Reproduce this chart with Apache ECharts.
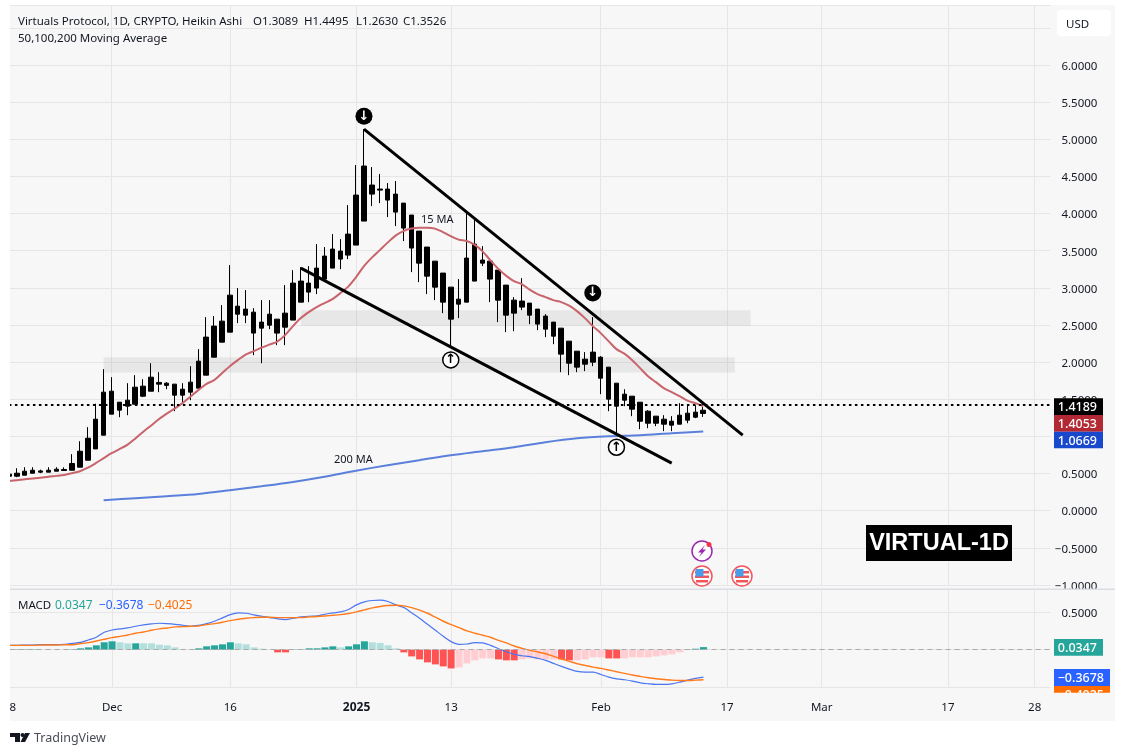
<!DOCTYPE html>
<html>
<head>
<meta charset="utf-8">
<title>VIRTUAL-1D</title>
<script src="https://cdn.jsdelivr.net/npm/echarts@6/dist/echarts.min.js"></script>
<style>
html,body{margin:0;padding:0;background:#fff;}
#main{width:1125px;height:756px;}
</style>
</head>
<body>
<div id="main"></div>
<script>
//日线数据 从图上读出来的 Heikin Ashi 全部是黑色 所以只记实体上下沿
var bodyLow=[.465,.465,.478,.505,.519,.519,.532,.541,.545,.586,.680,.832,1.017,1.300,1.354,1.407,1.434,1.542,1.609,1.704,1.687,1.556,1.556,1.596,1.650,1.825,2.067,2.269,2.404,2.646,2.633,2.391,2.458,2.498,2.391,2.471,2.566,2.808,2.943,2.997,3.118,3.266,3.387,3.441,3.576,3.899,4.262,4.316,4.182,4.020,3.805,3.536,3.333,3.158,3.010,2.808,2.579,2.781,2.808,3.091,3.333,3.118,2.835,2.633,2.660,2.741,2.633,2.512,2.444,2.350,2.108,1.986,1.933,1.973,2.000,1.784,1.502,1.407,1.488,1.367,1.205,1.178,1.178,1.165,1.152,1.165,1.219,1.259,1.3089];
var bodyHigh=[.492,.505,.532,.545,.536,.545,.559,.555,.636,.801,.976,1.232,1.596,1.609,1.461,1.488,1.663,1.677,1.798,1.727,1.717,1.704,1.636,1.731,2.013,2.337,2.485,2.552,2.902,2.754,2.714,2.673,2.539,2.646,2.579,2.660,3.064,3.091,3.064,3.266,3.428,3.522,3.495,3.724,4.249,4.640,4.384,4.330,4.330,4.262,4.141,3.980,3.764,3.549,3.360,3.199,3.010,2.848,3.401,3.589,3.374,3.360,3.239,3.037,2.835,2.822,2.795,2.714,2.620,2.539,2.458,2.283,2.148,2.040,2.135,2.067,1.933,1.717,1.569,1.542,1.461,1.340,1.273,1.232,1.205,1.286,1.313,1.327,1.3526];
var wickLow=[.438,.451,.478,.505,.505,.519,.532,.541,.545,.586,.680,.832,1.017,1.300,1.259,1.286,1.434,1.529,1.609,1.596,1.636,1.340,1.448,1.488,1.650,1.825,2.067,2.269,2.404,2.525,2.525,2.094,1.986,2.444,2.229,2.229,2.566,2.808,2.808,2.916,3.118,3.266,3.252,3.387,3.576,3.899,4.101,4.141,3.953,3.832,3.630,3.212,3.077,2.916,2.835,2.660,2.202,2.593,2.808,3.091,3.293,2.808,2.539,2.404,2.417,2.700,2.512,2.431,2.337,2.242,1.865,1.825,1.865,1.879,1.946,1.569,1.340,1.017,1.407,1.273,1.098,1.111,1.138,1.071,1.071,1.165,1.178,1.246,1.263];
var wickHigh=[.532,.572,.586,.586,.553,.586,.586,.584,.761,.936,1.125,1.441,1.906,1.798,1.461,1.717,1.825,1.771,1.986,1.865,1.731,1.704,1.717,1.946,2.175,2.606,2.620,2.768,3.306,2.997,2.970,2.727,2.835,2.835,2.579,3.037,3.239,3.279,3.293,3.589,3.549,3.724,3.656,4.114,4.653,5.138,4.626,4.532,4.411,4.438,4.141,3.980,3.764,3.549,3.360,3.199,3.010,3.118,4.006,3.912,3.562,3.360,3.239,3.037,2.875,3.131,2.795,2.714,2.646,2.539,2.458,2.283,2.148,2.135,2.606,2.081,1.933,1.717,1.636,1.542,1.461,1.354,1.273,1.286,1.273,1.448,1.421,1.421,1.4495];

//15 MA 每天一个点
var ma15=[.401,.411,.424,.434,.444,.458,.469,.482,.505,.532,.579,.640,.707,.774,.828,.886,.970,1.061,1.145,1.232,1.306,1.374,1.448,1.535,1.623,1.704,1.758,1.852,1.946,2.027,2.101,2.148,2.195,2.236,2.276,2.364,2.485,2.593,2.673,2.741,2.795,2.848,2.929,3.017,3.145,3.293,3.407,3.508,3.609,3.704,3.764,3.798,3.809,3.809,3.798,3.751,3.697,3.650,3.630,3.582,3.495,3.374,3.259,3.165,3.091,3.051,2.976,2.916,2.875,2.835,2.808,2.761,2.687,2.593,2.485,2.391,2.283,2.175,2.114,2.027,1.919,1.811,1.731,1.650,1.596,1.542,1.481,1.448,1.4053];
//200 MA 只取了几个读数点
var ma200Days=["2024-11-30","2024-12-04","2024-12-08","2024-12-12","2024-12-16","2024-12-20","2024-12-24","2024-12-28","2025-01-01","2025-01-05","2025-01-09","2025-01-13","2025-01-17","2025-01-21","2025-01-25","2025-01-29","2025-02-02","2025-02-06","2025-02-10","2025-02-14"];
var ma200=[.141,.168,.195,.226,.276,.330,.388,.458,.539,.613,.680,.747,.801,.855,.923,.976,1.003,1.017,1.044,1.0669];

//MACD
var macdHist=[.005,.005,.005,.005,.004,.004,.004,.004,.004,.018,.031,.058,.099,.112,.099,.085,.085,.085,.085,.067,.058,.031,.005,.003,.018,.045,.058,.072,.099,.085,.072,.031,.013,.004,-.036,-.036,.004,.004,.018,.018,.031,.045,.031,.045,.072,.112,.099,.090,.058,.018,-.036,-.090,-.130,-.170,-.197,-.224,-.251,-.238,-.184,-.143,-.117,-.117,-.130,-.143,-.143,-.130,-.117,-.130,-.130,-.130,-.130,-.143,-.143,-.130,-.103,-.103,-.117,-.117,-.117,-.103,-.103,-.103,-.090,-.076,-.063,-.036,.004,.013,.0347];
//柱子的深浅 T深绿 t浅绿 R深红 r浅红
var macdTone="TTTTttttTTTTTTttTtttttttTTTTTtttttRRTTTTTTtTTTttttRRRRRRRrrrrrRRRrrrrrRRrrrrRRrrrrrrrrTTT";
var macdLine=[.058,.058,.063,.063,.067,.067,.067,.072,.085,.099,.130,.166,.233,.264,.278,.291,.314,.332,.345,.354,.349,.340,.327,.314,.327,.349,.381,.426,.470,.493,.488,.466,.448,.430,.412,.403,.421,.439,.448,.452,.475,.493,.506,.538,.600,.641,.659,.663,.645,.600,.564,.493,.421,.340,.260,.179,.108,.072,.076,.094,.090,.058,.013,-.027,-.063,-.081,-.094,-.116,-.143,-.184,-.224,-.260,-.291,-.300,-.300,-.332,-.367,-.390,-.403,-.421,-.444,-.457,-.466,-.466,-.457,-.435,-.408,-.385,-.3678];
var signalLine=[.058,.058,.058,.058,.063,.063,.063,.067,.067,.081,.094,.116,.139,.161,.179,.197,.220,.237,.260,.278,.291,.305,.309,.314,.318,.336,.349,.367,.390,.408,.421,.430,.435,.435,.430,.430,.430,.430,.439,.444,.452,.461,.470,.484,.506,.533,.560,.578,.591,.596,.587,.564,.529,.488,.435,.381,.336,.296,.251,.220,.193,.166,.125,.090,.049,.018,-.009,-.031,-.054,-.090,-.125,-.157,-.188,-.211,-.233,-.251,-.273,-.296,-.318,-.340,-.358,-.376,-.390,-.399,-.408,-.412,-.412,-.408,-.4025];

//时间轴
var firstDay="2024-11-18";
var dayCount=133;
var tickDays=["2024-11-18","2024-12-01","2024-12-16","2025-01-01","2025-01-13","2025-02-01","2025-02-17","2025-03-01","2025-03-17","2025-03-28"];
var tickLabels=["18","Dec","16","2025","13","Feb","17","Mar","17","28"];

//趋势线 阻力区 箭头 都按日期和价格记
var upperTrend=[["2025-01-02",5.138],["2025-02-19",1.017]];
var lowerTrend=[["2024-12-25",3.266],["2025-02-10",.640]];
var zoneLow=[["2024-11-30",2.067],["2025-02-18",1.861]];
var zoneHigh=[["2024-12-25",2.700],["2025-02-20",2.490]];
var arrowsDown=[["2025-01-02",5.31],["2025-01-31",2.93]];
var arrowsUp=[["2025-01-13",2.03],["2025-02-03",.855]];
var lastPrice=1.4189;

var FONT='"Noto Sans", sans-serif';
var GRID_COLOR="#e6e6e6";
var PANEL="#f7f7f7";

function buildDays(){
    var days=[];
    var start=Date.parse(firstDay+"T00:00:00Z");
    for(var i=0;i<dayCount;i++){
        days.push(new Date(start+i*86400000).toISOString().slice(0,10));
    }
    return days;
}
var categories=buildDays();

function isTickDay(index,value){
    return tickDays.indexOf(value)>=0;
}

function priceLabel(v){
    var text=Math.abs(v).toFixed(4);
    return v<0?"\u2212"+text:text;
}

function candleData(){
    var rows=[];
    for(var i=0;i<bodyLow.length;i++){
        rows.push([bodyLow[i],bodyHigh[i],wickLow[i],wickHigh[i]]);
    }
    return rows;
}

function histData(){
    var toneColor={T:"#26a69a",t:"#b2dfdb",R:"#ff5252",r:"#ffcdd2"};
    return macdHist.map(function(v,i){
        return {value:v,itemStyle:{color:toneColor[macdTone.charAt(i)]}};
    });
}

function arrowPoint(item,isDown){
    return {
        coord:item,
        symbol:"circle",
        symbolSize:isDown?17:16,
        itemStyle:{color:isDown?"#000":"#fff",borderColor:"#000",borderWidth:isDown?0:1.5},
        label:{show:true,position:"inside",formatter:isDown?"\u2193":"\u2191",color:isDown?"#fff":"#000",fontSize:13,fontWeight:"bold",fontFamily:"DejaVu Sans"}
    };
}

function xAxisOf(gridIndex,showLabel){
    return {
        type:"category",
        gridIndex:gridIndex,
        data:categories,
        boundaryGap:false,
        axisLine:{show:false},
        axisTick:{show:true,interval:isTickDay,length:showLabel?6:4,lineStyle:{color:GRID_COLOR}},
        splitLine:{show:true,interval:isTickDay,lineStyle:{color:GRID_COLOR,width:1}},
        axisLabel:{
            show:showLabel,
            interval:isTickDay,
            margin:15,
            color:"#131722",
            fontSize:11.5,
            fontFamily:FONT,
            formatter:function(value){
                var label=tickLabels[tickDays.indexOf(value)];
                return label==="2025"?"{strong|2025}":label;
            },
            rich:{strong:{fontWeight:"bold",fontSize:12,fontFamily:FONT,color:"#131722"}}
        }
    };
}

function yAxisOf(gridIndex,min,max,labelFormatter){
    return {
        type:"value",
        gridIndex:gridIndex,
        position:"right",
        min:min,
        max:max,
        interval:.5,
        axisLine:{show:false},
        axisTick:{show:false},
        splitLine:{show:true,lineStyle:{color:GRID_COLOR,width:1}},
        //文字整体下移一点 和刻度线对齐
        axisLabel:{show:true,showMaxLabel:false,showMinLabel:true,align:"right",verticalAlign:"top",margin:47,padding:[-4.5,0,0,0],color:"#131722",fontSize:11.5,fontFamily:FONT,formatter:labelFormatter}
    };
}

function tag(x,y,w,h,color,text,textRight){
    return [{
        type:"rect",z:100,shape:{x:x,y:y,width:w,height:h},style:{fill:color}
    },{
        type:"text",z:101,style:{x:textRight,y:y+h/2+1,text:text,fill:"#fff",font:"500 12.5px "+FONT,textAlign:"right",textVerticalAlign:"middle"}
    }];
}

function headerText(x,y,text,color,size){
    return {type:"text",z:50,style:{x:x,y:y+1.5,text:text,fill:color||"#131722",font:(size||11.5)+"px "+FONT,textVerticalAlign:"middle"}};
}

//美国国旗的小圆图标
function flagIcon(cx,cy){
    var red="#f2545b";
    return {
        type:"group",x:cx,y:cy,z:60,children:[
            {type:"circle",z:60,shape:{cx:0,cy:0,r:10},style:{fill:"#fff",stroke:red,lineWidth:1.5}},
            {type:"rect",z:61,shape:{x:-7,y:-5,width:14,height:2.5},style:{fill:red}},
            {type:"rect",z:61,shape:{x:-7,y:-.5,width:14,height:2.5},style:{fill:red}},
            {type:"rect",z:61,shape:{x:-6,y:4,width:12,height:2.5},style:{fill:red}},
            {type:"rect",z:62,shape:{x:-6.5,y:-7,width:8,height:7.5},style:{fill:"#4a9be8"}}
        ]
    };
}

function graphicElements(){
    var els=[
        //外层的灰色底 和左边裁掉标签的白边
        {type:"rect",z:-10,shape:{x:10,y:5,width:1105,height:716},style:{fill:PANEL}},
        {type:"rect",z:90,shape:{x:0,y:0,width:10,height:756},style:{fill:"#fff"}},
        //面板分隔线
        {type:"rect",z:80,shape:{x:10,y:588.5,width:1105,height:1.5},style:{fill:"#dcdce5"}},
        {type:"rect",z:81,shape:{x:1053,y:590,width:62,height:4},style:{fill:PANEL}},
        headerText(18,20,"Virtuals Protocol, 1D, CRYPTO, Heikin Ashi"),
        headerText(253,20,"O1.3089"),
        headerText(304,20,"H1.4495"),
        headerText(356,20,"L1.2630"),
        headerText(403,20,"C1.3526"),
        headerText(18,37,"50,100,200 Moving Average"),
        headerText(18,604,"MACD"),
        headerText(55,604,"0.0347","#26a69a",12),
        headerText(99,604,"\u22120.3678","#2962ff",12),
        headerText(148,604,"\u22120.4025","#ff6d00",12),
        headerText(421,218,"15 MA","#131722",11),
        headerText(334,458,"200 MA","#131722",11),
        //USD 按钮
        {type:"rect",z:50,shape:{x:1057,y:10,width:54,height:26,r:4},style:{fill:"#fff"}},
        headerText(1066,23,"USD"),
        //水印
        {type:"rect",z:50,shape:{x:866,y:525,width:146,height:36},style:{fill:"#000"}},
        {type:"text",z:51,style:{x:939,y:544,text:"VIRTUAL-1D",fill:"#fff",font:"bold 23.5px 'Liberation Sans'",textAlign:"center",textVerticalAlign:"middle"}},
        //闪电图标
        {type:"circle",z:60,shape:{cx:702,cy:551,r:10},style:{fill:"#fff",stroke:"#9c27b0",lineWidth:1.5}},
        {type:"polygon",z:61,shape:{points:[[705,545],[698,552.5],[701.5,552.5],[699,557],[706,549.5],[702.5,549.5]]},style:{fill:"#9c27b0"}},
        {type:"circle",z:62,shape:{cx:709,cy:544.5,r:2.5},style:{fill:"#f23645"}},
        flagIcon(702,576),
        flagIcon(742,576),
        //底部 logo
        {type:"polygon",z:50,shape:{points:[[10,733],[20,733],[20,742],[15,742],[15,737],[10,737]]},style:{fill:"#131722"}},
        {type:"circle",z:50,shape:{cx:22.5,cy:735,r:2},style:{fill:"#131722"}},
        {type:"polygon",z:50,shape:{points:[[25,733],[30,733],[25,742],[20.5,742]]},style:{fill:"#131722"}},
        headerText(34,737,"TradingView","#4a4d57",12.5)
    ];
    //右侧价格标签
    return els
        .concat(tag(1054,398.3,49,16.7,"#000",priceLabel(lastPrice),1097))
        .concat(tag(1054,415,49,16.7,"#b22833",priceLabel(ma15[ma15.length-1]),1097))
        .concat(tag(1054,431.7,49,16.5,"#1848cc",priceLabel(ma200[ma200.length-1]),1097))
        .concat(tag(1054,639,49,16.7,"#26a69a",priceLabel(macdHist[macdHist.length-1]),1097))
        .concat(tag(1054,669,56,17,"#2962ff",priceLabel(macdLine[macdLine.length-1]),1104))
        .concat(tag(1054,686,56,17,"#ff6d00",priceLabel(signalLine[signalLine.length-1]),1104))
        .concat([{type:"rect",z:102,shape:{x:1050,y:692.7,width:65,height:12},style:{fill:PANEL}}]);
}

var myChart=echarts.init(document.getElementById("main"),null,{renderer:"canvas"});
var option={
    animation:false,
    backgroundColor:"#fff",
    textStyle:{fontFamily:FONT},
    grid:[
        {left:8.93,right:74.6,top:5,height:580},
        {left:8.93,right:74.6,top:589,height:98}
    ],
    xAxis:[xAxisOf(0,false),xAxisOf(1,true)],
    yAxis:[
        yAxisOf(0,-1,6.808,function(v){return v>6.2?"":priceLabel(v);}),
        yAxisOf(1,-.5,.813,priceLabel)
    ],
    series:[
        {
            name:"zones",
            type:"line",
            xAxisIndex:0,yAxisIndex:0,
            data:[],
            z:1,
            markArea:{
                silent:true,
                itemStyle:{color:"rgba(110,110,110,0.11)"},
                data:[
                    [{coord:zoneLow[0]},{coord:zoneLow[1]}],
                    [{coord:zoneHigh[0]},{coord:zoneHigh[1]}]
                ]
            }
        },
        {
            name:"candles",
            type:"candlestick",
            xAxisIndex:0,yAxisIndex:0,
            data:candleData(),
            barWidth:5,
            z:3,
            itemStyle:{color:"#000",color0:"#000",borderColor:"#000",borderColor0:"#000",borderWidth:1},
            markPoint:{
                silent:true,
                z:9,
                data:arrowsDown.map(function(a){return arrowPoint(a,true);}).concat(arrowsUp.map(function(a){return arrowPoint(a,false);}))
            },
            markLine:{
                silent:true,
                symbol:"none",
                label:{show:false},
                lineStyle:{color:"#000",type:[2.5,3.5],width:2},
                data:[{yAxis:lastPrice}]
            }
        },
        {name:"15 MA",type:"line",xAxisIndex:0,yAxisIndex:0,data:ma15,showSymbol:false,symbol:"none",z:4,smooth:.3,lineStyle:{color:"#c9636c",width:2}},
        {
            name:"200 MA",type:"line",xAxisIndex:0,yAxisIndex:0,
            data:ma200Days.map(function(d,i){return [d,ma200[i]];}),
            showSymbol:false,symbol:"none",z:4,smooth:.3,lineStyle:{color:"#5b80dc",width:2}
        },
        {name:"upper",type:"line",xAxisIndex:0,yAxisIndex:0,data:upperTrend,showSymbol:false,symbol:"none",z:5,lineStyle:{color:"#000",width:3}},
        {name:"lower",type:"line",xAxisIndex:0,yAxisIndex:0,data:lowerTrend,showSymbol:false,symbol:"none",z:5,lineStyle:{color:"#000",width:3}},
        {
            name:"hist",type:"bar",xAxisIndex:1,yAxisIndex:1,
            data:histData(),barWidth:7,z:3,
            markLine:{
                silent:true,symbol:"none",label:{show:false},
                lineStyle:{color:"#aaa",type:[5,4],width:1},
                data:[{yAxis:0}]
            }
        },
        {name:"MACD",type:"line",xAxisIndex:1,yAxisIndex:1,data:macdLine,showSymbol:false,symbol:"none",z:4,smooth:.3,lineStyle:{color:"#4a76f0",width:1.2}},
        {name:"Signal",type:"line",xAxisIndex:1,yAxisIndex:1,data:signalLine,showSymbol:false,symbol:"none",z:4,smooth:.3,lineStyle:{color:"#ff7a1a",width:1.4}}
    ],
    graphic:{elements:graphicElements()}
};
myChart.setOption(option);
</script>
</body>
</html>
